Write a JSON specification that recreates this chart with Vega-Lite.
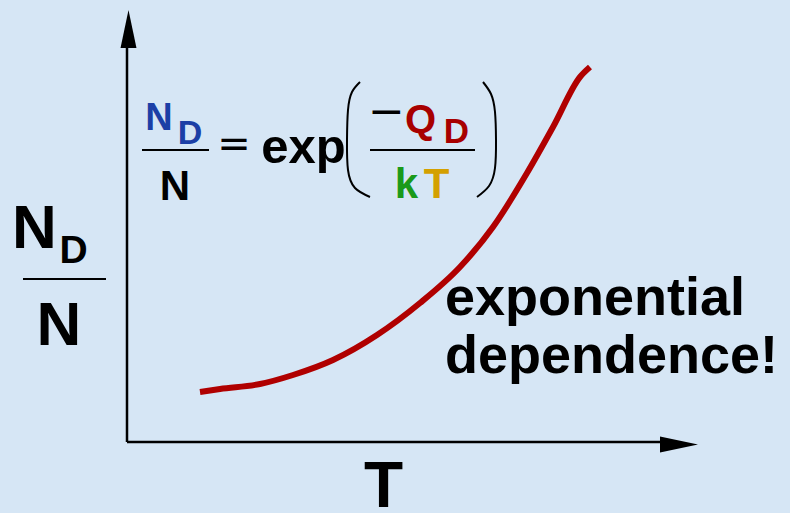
{
  "$schema": "https://vega.github.io/schema/vega-lite/v6.json",
  "width": 790,
  "height": 513,
  "padding": 0,
  "autosize": "none",
  "background": "#d6e6f5",
  "config": {"view": {"stroke": null}},
  "datasets": {
    "curve": [
      {"x": 73, "y": 50}, {"x": 93, "y": 53}, {"x": 133, "y": 58}, {"x": 166, "y": 67},
      {"x": 206, "y": 82}, {"x": 250, "y": 107}, {"x": 293, "y": 139}, {"x": 333, "y": 175},
      {"x": 366, "y": 215}, {"x": 400, "y": 269}, {"x": 426, "y": 315}, {"x": 453, "y": 365},
      {"x": 463, "y": 375}
    ],
    "axes": [
      {"x": 0, "y": 0, "x2": 0, "y2": 396},
      {"x": 0, "y": 0, "x2": 535, "y2": 0}
    ],
    "fracs": [
      {"x": 15, "y": 292, "x2": 82, "y2": 292},
      {"x": 243, "y": 292, "x2": 348, "y2": 292},
      {"x": -104, "y": 163, "x2": -21, "y2": 163}
    ],
    "parens": [
      {"side": "L", "i": 0, "x": 233, "y": 360}, {"side": "L", "i": 1, "x": 225, "y": 350},
      {"side": "L", "i": 2, "x": 221, "y": 332}, {"side": "L", "i": 3, "x": 220, "y": 302},
      {"side": "L", "i": 4, "x": 221, "y": 272}, {"side": "L", "i": 5, "x": 228, "y": 254},
      {"side": "L", "i": 6, "x": 243, "y": 245},
      {"side": "R", "i": 0, "x": 356, "y": 360}, {"side": "R", "i": 1, "x": 364, "y": 348},
      {"side": "R", "i": 2, "x": 368, "y": 330}, {"side": "R", "i": 3, "x": 369, "y": 302},
      {"side": "R", "i": 4, "x": 368, "y": 274}, {"side": "R", "i": 5, "x": 362, "y": 256},
      {"side": "R", "i": 6, "x": 350, "y": 245}
    ]
  },
  "encoding": {
    "x": {"field": "x", "type": "quantitative", "scale": {"domain": [-127, 663], "nice": false, "zero": false}, "axis": null},
    "y": {"field": "y", "type": "quantitative", "scale": {"domain": [-71, 442], "nice": false, "zero": false}, "axis": null}
  },
  "layer": [
    {
      "data": {"name": "axes"},
      "mark": {"type": "rule", "color": "black", "strokeWidth": 2.5},
      "encoding": {"x2": {"field": "x2"}, "y2": {"field": "y2"}}
    },
    {
      "data": {"values": [{"x": 1.5, "y": 413}]},
      "mark": {"type": "point", "shape": "M0,-1L0.42,1L-0.42,1Z", "size": 1444, "filled": true, "color": "black", "opacity": 1}
    },
    {
      "data": {"values": [{"x": 552, "y": -2.5}]},
      "mark": {"type": "point", "shape": "M1,0L-1,-0.42L-1,0.42Z", "size": 1444, "filled": true, "color": "black", "opacity": 1}
    },
    {
      "data": {"name": "curve"},
      "mark": {"type": "line", "color": "#b00000", "strokeWidth": 6, "interpolate": "monotone"}
    },
    {
      "data": {"name": "fracs"},
      "mark": {"type": "rule", "color": "black", "strokeWidth": 2},
      "encoding": {"x2": {"field": "x2"}, "y2": {"field": "y2"}}
    },
    {
      "data": {"name": "parens"},
      "mark": {"type": "line", "color": "black", "strokeWidth": 2, "interpolate": "natural"},
      "encoding": {"detail": {"field": "side"}, "order": {"field": "i"}}
    },
    {
      "data": {"values": [{"x": 32, "y": 312, "t": "N"}]},
      "mark": {"type": "text", "font": "Liberation Sans", "fontWeight": "bold", "fontSize": 38, "color": "#1c3fa6", "align": "center", "baseline": "alphabetic"},
      "encoding": {"text": {"field": "t"}}
    },
    {
      "data": {"values": [{"x": 63, "y": 298, "t": "D"}]},
      "mark": {"type": "text", "font": "Liberation Sans", "fontWeight": "bold", "fontSize": 34, "color": "#1c3fa6", "align": "center", "baseline": "alphabetic"},
      "encoding": {"text": {"field": "t"}}
    },
    {
      "data": {"values": [{"x": 48, "y": 242, "t": "N"}]},
      "mark": {"type": "text", "font": "Liberation Sans", "fontWeight": "bold", "fontSize": 42, "color": "black", "align": "center", "baseline": "alphabetic"},
      "encoding": {"text": {"field": "t"}}
    },
    {
      "data": {"values": [{"x": 107, "y": 285, "t": "="}]},
      "mark": {"type": "text", "font": "DejaVu Sans", "fontWeight": "normal", "fontSize": 40, "color": "black", "align": "center", "baseline": "alphabetic"},
      "encoding": {"text": {"field": "t"}}
    },
    {
      "data": {"values": [{"x": 176.5, "y": 279, "t": "exp"}]},
      "mark": {"type": "text", "font": "Liberation Sans", "fontWeight": "bold", "fontSize": 49, "color": "black", "align": "center", "baseline": "alphabetic"},
      "encoding": {"text": {"field": "t"}}
    },
    {
      "data": {"values": [{"x": 259.5, "y": 316, "t": "−"}]},
      "mark": {"type": "text", "font": "DejaVu Sans", "fontWeight": "normal", "fontSize": 44, "color": "black", "align": "center", "baseline": "alphabetic"},
      "encoding": {"text": {"field": "t"}}
    },
    {
      "data": {"values": [{"x": 293.5, "y": 309, "t": "Q"}]},
      "mark": {"type": "text", "font": "Liberation Sans", "fontWeight": "bold", "fontSize": 40, "color": "#a80000", "align": "center", "baseline": "alphabetic"},
      "encoding": {"text": {"field": "t"}}
    },
    {
      "data": {"values": [{"x": 329.5, "y": 299, "t": "D"}]},
      "mark": {"type": "text", "font": "Liberation Sans", "fontWeight": "bold", "fontSize": 35, "color": "#a80000", "align": "center", "baseline": "alphabetic"},
      "encoding": {"text": {"field": "t"}}
    },
    {
      "data": {"values": [{"x": 279.5, "y": 244, "t": "k"}]},
      "mark": {"type": "text", "font": "Liberation Sans", "fontWeight": "bold", "fontSize": 42, "color": "#1a9a1a", "align": "center", "baseline": "alphabetic"},
      "encoding": {"text": {"field": "t"}}
    },
    {
      "data": {"values": [{"x": 309.5, "y": 244, "t": "T"}]},
      "mark": {"type": "text", "font": "Liberation Sans", "fontWeight": "bold", "fontSize": 42, "color": "#d4a000", "align": "center", "baseline": "alphabetic"},
      "encoding": {"text": {"field": "t"}}
    },
    {
      "data": {"values": [{"x": -92.5, "y": 194, "t": "N"}]},
      "mark": {"type": "text", "font": "Liberation Sans", "fontWeight": "bold", "fontSize": 62, "color": "black", "align": "center", "baseline": "alphabetic"},
      "encoding": {"text": {"field": "t"}}
    },
    {
      "data": {"values": [{"x": -53.5, "y": 179, "t": "D"}]},
      "mark": {"type": "text", "font": "Liberation Sans", "fontWeight": "bold", "fontSize": 39, "color": "black", "align": "center", "baseline": "alphabetic"},
      "encoding": {"text": {"field": "t"}}
    },
    {
      "data": {"values": [{"x": -68, "y": 97, "t": "N"}]},
      "mark": {"type": "text", "font": "Liberation Sans", "fontWeight": "bold", "fontSize": 62, "color": "black", "align": "center", "baseline": "alphabetic"},
      "encoding": {"text": {"field": "t"}}
    },
    {
      "data": {"values": [{"x": 256.5, "y": -65, "t": "T"}]},
      "mark": {"type": "text", "font": "Liberation Sans", "fontWeight": "bold", "fontSize": 64, "color": "black", "align": "center", "baseline": "alphabetic"},
      "encoding": {"text": {"field": "t"}}
    },
    {
      "data": {"values": [{"x": 318, "y": 127, "t": "exponential"}, {"x": 318, "y": 69, "t": "dependence!"}]},
      "mark": {"type": "text", "font": "Liberation Sans", "fontWeight": "bold", "fontSize": 54, "color": "black", "align": "left", "baseline": "alphabetic"},
      "encoding": {"text": {"field": "t"}}
    }
  ]
}
